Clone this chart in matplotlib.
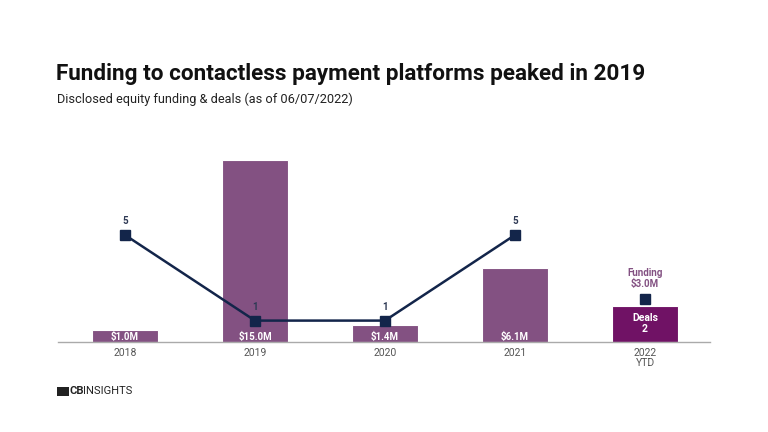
import matplotlib.pyplot as plt
from matplotlib.patches import Rectangle

plt.rcParams["font.family"] = ["Roboto", "DejaVu Sans"]

# ===============================
# Data
# ===============================
years = ["2018", "2019", "2020", "2021", "2022\nYTD"]
funding = [1.0, 15.0, 1.4, 6.1, 3.0]          # $M
funding_labels = ["$1.0M", "$15.0M", "$1.4M", "$6.1M", "$3.0M"]
deals = [5, 1, 1, 5, 2]

BAR = "#835182"
BAR_YTD = "#701265"
NAVY = "#13254a"
GRAY = "#555555"

fig = plt.figure(figsize=(7.68, 4.32), dpi=100)
W, H = 768, 432

# title block
fig.text(56 / W, 1 - 74 / H, "Funding to contactless payment platforms peaked in 2019",
         fontsize=16.2, fontweight="bold", color="#111111", va="center", ha="left")
fig.text(57 / W, 1 - 99 / H, "Disclosed equity funding & deals (as of 06/07/2022)",
         fontsize=9.2, color="#222222", va="center", ha="left")

# ===============================
# Bars (funding)
# ===============================
ax = fig.add_axes([58 / W, 1 - 342 / H, (710 - 58) / W, 192 / H])
x = list(range(len(years)))
colors = [BAR] * 4 + [BAR_YTD]
ax.bar(x, funding, width=0.51, color=colors, edgecolor="white", linewidth=0.8, zorder=2)
ax.set_xlim(-0.515, 4.5)
ax.set_ylim(0, 15.82)

for i in range(4):
    ax.text(i, 0.45, funding_labels[i], ha="center", va="center", color="white",
            fontsize=7, fontweight="bold", zorder=5)

for s in ["top", "right", "left"]:
    ax.spines[s].set_visible(False)
ax.spines["bottom"].set_color("#aaaaaa")
ax.spines["bottom"].set_linewidth(1)
ax.set_yticks([])
ax.set_xticks(x)
ax.set_xticklabels(years, fontsize=7.5, color=GRAY, linespacing=1.1)
ax.tick_params(axis="x", length=0, pad=4)

# ===============================
# Line (deals)
# ===============================
ax2 = ax.twinx()
ax2.set_ylim(0, 8.97)
ax2.plot(x[:4], deals[:4], color=NAVY, linewidth=1.8, marker="s", markersize=6.5, zorder=4)
ax2.plot(x[4], deals[4], color=NAVY, marker="s", markersize=6.5, linestyle="none")
for i in range(4):
    ax2.annotate(str(deals[i]), (x[i], deals[i]), xytext=(0, 6.5), textcoords="offset points",
                 ha="center", va="bottom", fontsize=7, fontweight="bold", color="#2f3a55")
ax2.set_yticks([])
for s in ax2.spines.values():
    s.set_visible(False)

# legend-like labels on the 2022 bar
ax2.annotate("Funding\n" + funding_labels[4], (x[4], deals[4]), xytext=(0, 7),
             textcoords="offset points", ha="center", va="bottom", fontsize=7,
             fontweight="bold", color=BAR, linespacing=1.15)
ax.text(x[4], funding[4] / 2, "Deals\n" + str(deals[4]), ha="center", va="center",
        color="white", fontsize=7.5, fontweight="bold", linespacing=1.15, zorder=5)

# ===============================
# Logo
# ===============================
fig.patches.append(Rectangle((57 / W, 1 - 396 / H), 12 / W, 9 / H, transform=fig.transFigure,
                             facecolor="#222222", edgecolor="none"))
fig.text(69.5 / W, 1 - 391 / H, "CB", fontsize=8, fontweight="bold", color="#222222",
         va="center", ha="left")
fig.text(83 / W, 1 - 391 / H, "INSIGHTS", fontsize=8, color="#222222", va="center", ha="left")

fig.savefig("out.png", dpi=100)
